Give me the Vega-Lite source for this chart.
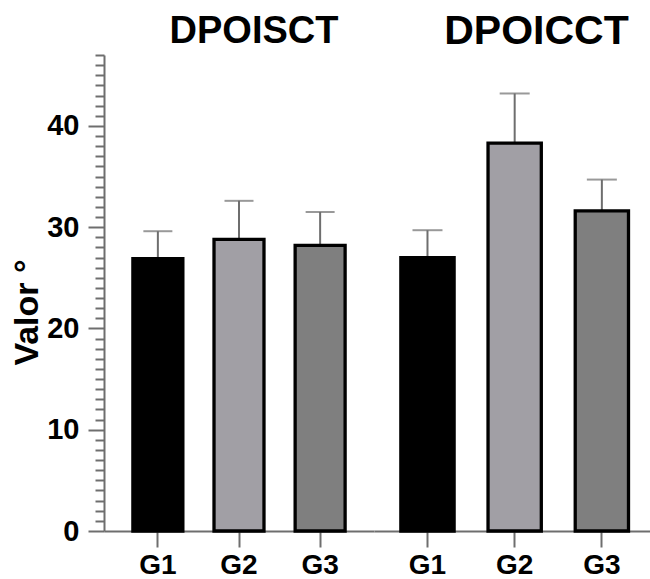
{
  "$schema": "https://vega.github.io/schema/vega-lite/v6.json",
  "padding": {"left": 10, "top": 10, "right": 0, "bottom": 0},
  "spacing": 0,
  "config": {
    "font": "Liberation Sans",
    "view": {"stroke": null},
    "axis": {
      "labelFont": "Liberation Sans",
      "labelFontWeight": "bold",
      "labelColor": "#000000",
      "titleFont": "Liberation Sans",
      "titleFontWeight": "bold",
      "titleColor": "#000000",
      "domainColor": "#6e6e6e",
      "domainWidth": 2,
      "tickColor": "#6e6e6e",
      "tickWidth": 2,
      "grid": false
    },
    "axisY": {
      "titleFontSize": 34,
      "titlePadding": 2,
      "labelFontSize": 29,
      "labelPadding": 9,
      "labelOverlap": false
    }
  },
  "datasets": {
    "bars": [
      {"test": "DPOISCT", "group": "G1", "mean": 26.9, "upper": 29.6},
      {"test": "DPOISCT", "group": "G2", "mean": 28.8, "upper": 32.6},
      {"test": "DPOISCT", "group": "G3", "mean": 28.2, "upper": 31.5},
      {"test": "DPOICCT", "group": "G1", "mean": 27.0, "upper": 29.7},
      {"test": "DPOICCT", "group": "G2", "mean": 38.3, "upper": 43.2},
      {"test": "DPOICCT", "group": "G3", "mean": 31.6, "upper": 34.7}
    ]
  },
  "resolve": {"scale": {"y": "shared"}},
  "hconcat": [
    {
      "width": 270,
      "height": 476,
      "title": {"text": "DPOISCT", "fontSize": 38, "fontWeight": "bold", "font": "Liberation Sans", "anchor": "middle", "frame": "group", "dx": 15, "offset": -10, "color": "#000000"},
      "data": {"name": "bars"},
      "transform": [{"filter": "datum.test === 'DPOISCT'"}],
      "encoding": {
        "x": {
          "field": "group", "type": "nominal",
          "scale": {"paddingInner": 0.384, "paddingOuter": 0.356, "align": 0.5},
          "axis": {"title": null, "labelAngle": 0, "labelFontSize": 28, "tickSize": 16, "labelPadding": 4}
        },
        "y": {
          "field": "mean", "type": "quantitative",
          "scale": {"domain": [0, 47], "nice": false, "zero": true},
          "axis": {
            "title": "Valor °",
            "titleY": 257,
            "values": [0,1,2,3,4,5,6,7,8,9,10,11,12,13,14,15,16,17,18,19,20,21,22,23,24,25,26,27,28,29,30,31,32,33,34,35,36,37,38,39,40,41,42,43,44,45,46,47],
            "labelExpr": "datum.value % 10 === 0 ? datum.label : ''",
            "tickSize": {"condition": {"test": "datum.value % 10 === 0", "value": 16}, "value": 9}
          }
        }
      },
      "layer": [
        {
          "mark": {"type": "rule", "color": "#6e6e6e", "strokeWidth": 2},
          "encoding": {"y2": {"field": "upper"}}
        },
        {
          "mark": {"type": "tick", "color": "#6e6e6e", "thickness": 2, "size": 29},
          "encoding": {
            "y": {
              "field": "upper", "type": "quantitative",
              "axis": {
                "title": "Valor °",
                "titleY": 257,
                "values": [0,1,2,3,4,5,6,7,8,9,10,11,12,13,14,15,16,17,18,19,20,21,22,23,24,25,26,27,28,29,30,31,32,33,34,35,36,37,38,39,40,41,42,43,44,45,46,47],
                "labelExpr": "datum.value % 10 === 0 ? datum.label : ''",
                "tickSize": {"condition": {"test": "datum.value % 10 === 0", "value": 16}, "value": 9}
              }
            }
          }
        },
        {
          "mark": {"type": "bar", "stroke": "#000000", "strokeWidth": 3.3},
          "encoding": {
            "color": {"field": "group", "type": "nominal", "scale": {"domain": ["G1", "G2", "G3"], "range": ["#000000", "#a19fa5", "#7f7f7f"]}, "legend": null}
          }
        }
      ]
    },
    {
      "width": 277,
      "height": 476,
      "title": {"text": "DPOICCT", "fontSize": 41, "fontWeight": "bold", "font": "Liberation Sans", "anchor": "middle", "frame": "group", "dx": 24, "offset": 2.5, "color": "#000000"},
      "data": {"name": "bars"},
      "transform": [{"filter": "datum.test === 'DPOICCT'"}],
      "encoding": {
        "x": {
          "field": "group", "type": "nominal",
          "scale": {"paddingInner": 0.389, "paddingOuter": 0.283, "align": 0.544},
          "axis": {"title": null, "labelAngle": 0, "labelFontSize": 28, "tickSize": 16, "labelPadding": 4}
        },
        "y": {"field": "mean", "type": "quantitative", "axis": null}
      },
      "layer": [
        {
          "mark": {"type": "rule", "color": "#6e6e6e", "strokeWidth": 2},
          "encoding": {"y2": {"field": "upper"}}
        },
        {
          "mark": {"type": "tick", "color": "#6e6e6e", "thickness": 2, "size": 30},
          "encoding": {"y": {"field": "upper", "type": "quantitative", "axis": null}}
        },
        {
          "mark": {"type": "bar", "stroke": "#000000", "strokeWidth": 3.3},
          "encoding": {
            "color": {"field": "group", "type": "nominal", "scale": {"domain": ["G1", "G2", "G3"], "range": ["#000000", "#a19fa5", "#7f7f7f"]}, "legend": null}
          }
        }
      ]
    }
  ]
}
